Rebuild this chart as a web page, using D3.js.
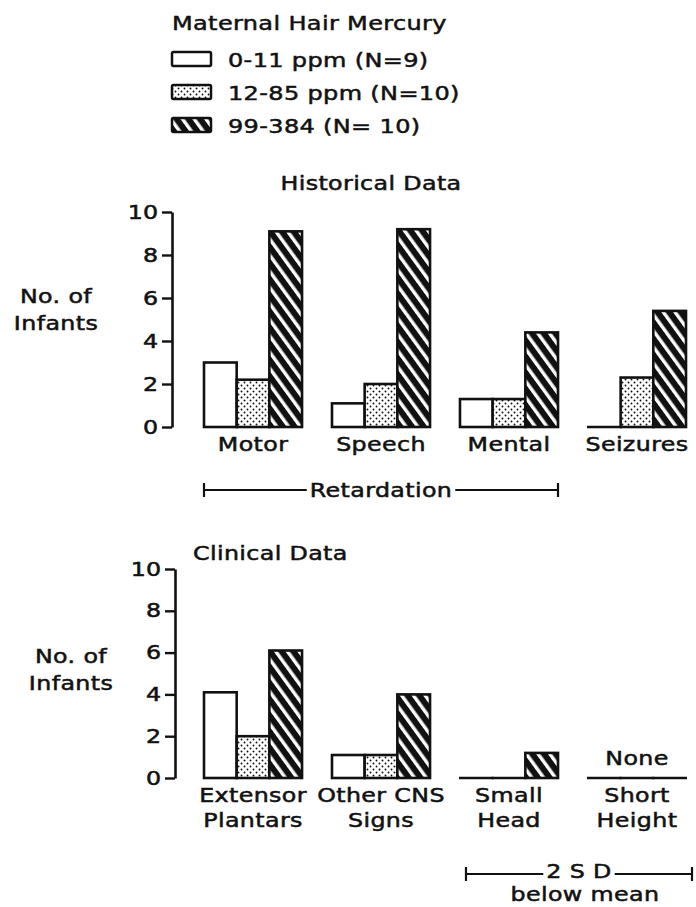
<!DOCTYPE html>
<html>
<head>
<meta charset="utf-8">
<script src="https://cdn.jsdelivr.net/npm/d3@7"></script>
<style>
  body { margin: 0; background: #fff; }
  /* printed type is heavier than the book weight, thicken with a thin stroke */
  text { font-family: "DejaVu Sans", sans-serif; fill: #111; stroke: #111; stroke-width: 0.5px; }
</style>
</head>
<body>
<svg id="chart" width="696" height="907"></svg>
<script>
// values
const seriesNames = ["0-11 ppm (N=9)", "12-85 ppm (N=10)", "99-384 (N= 10)"];
const histCategories = ["Motor", "Speech", "Mental", "Seizures"];
const histLow = [3, 1.1, 1.3, 0];
const histMid = [2.2, 2, 1.3, 2.3];
const histHigh = [9.1, 9.2, 4.4, 5.4];

const clinCategories = ["Extensor\nPlantars", "Other CNS\nSigns", "Small\nHead", "Short\nHeight"];
const clinLow = [4.1, 1.1, 0, 0];
const clinMid = [2, 1.1, 0, 0];
const clinHigh = [6.1, 4, 1.2, 0];

const yTicks = [0, 2, 4, 6, 8, 10];

const SX = 1.25; // the print type is wide, stretch it a bit
const svg = d3.select("#chart");

// patterns
const defs = svg.append("defs");
const dots = defs.append("pattern").attr("id", "dots")
    .attr("patternUnits", "userSpaceOnUse").attr("width", 6).attr("height", 6);
dots.append("rect").attr("width", 6).attr("height", 6).attr("fill", "#fff");
dots.append("circle").attr("cx", 1.5).attr("cy", 1.5).attr("r", 0.95).attr("fill", "#111");
dots.append("circle").attr("cx", 4.5).attr("cy", 4.5).attr("r", 0.95).attr("fill", "#111");

const hatch = defs.append("pattern").attr("id", "hatch")
    .attr("patternUnits", "userSpaceOnUse").attr("width", 9.5).attr("height", 9.5)
    .attr("patternTransform", "rotate(-36)");
hatch.append("rect").attr("width", 9.5).attr("height", 9.5).attr("fill", "#111");
hatch.append("rect").attr("width", 3.4).attr("height", 9.5).attr("fill", "#fff");

const fills = ["#fff", "url(#dots)", "url(#hatch)"];

function label(g, x, y, s, anchor = "middle", size = 19, sx = SX) {
    return g.append("text")
        .attr("transform", `translate(${x},${y}) scale(${sx},1)`)
        .attr("text-anchor", anchor)
        .style("font-size", size + "px")
        .style("letter-spacing", "0.3px")
        .text(s);
}

// legend
const leg = svg.append("g");
label(leg, 172, 30, "Maternal Hair Mercury", "start", 20, 1.2);
seriesNames.forEach((s, i) => {
    const base = 67 + i * 33;
    leg.append("rect").attr("x", 172).attr("y", base - 15).attr("width", 39).attr("height", 14)
        .attr("rx", 1.5).attr("fill", fills[i]).attr("stroke", "#111").attr("stroke-width", 2.5);
    label(leg, 228, base, s, "start", 20, 1.2);
});

// shared x scales
const x = d3.scaleBand().range([204, 686]).paddingInner(0.234).paddingOuter(0);
const xs = d3.scaleBand().domain([0, 1, 2]).padding(0);

function panel(cfg) {
    const g = svg.append("g");
    x.domain(cfg.cats);
    xs.range([0, x.bandwidth()]);
    const y = d3.scaleLinear().domain([0, 10]).range([cfg.y0, cfg.y10]);

    const ax = g.append("g").attr("transform", `translate(${cfg.axisX},0)`)
        .call(d3.axisLeft(y).tickValues(yTicks).tickSize(10).tickSizeOuter(0).tickPadding(4));
    ax.attr("font-family", null).attr("font-size", null);
    ax.select(".domain").attr("stroke", "#111").attr("stroke-width", 2.6);
    ax.selectAll(".tick line").attr("stroke", "#111").attr("stroke-width", 2.4);
    ax.selectAll(".tick text")
        .attr("x", -14 / SX)
        .attr("transform", `scale(${SX},1)`)
        .style("font-size", "19px")
        .attr("fill", "#111");

    const series = [cfg.low, cfg.mid, cfg.high];
    cfg.cats.forEach((c, i) => {
        series.forEach((vals, j) => {
            const v = vals[i];
            const bx = x(c) + xs(j);
            if (v > 0) {
                g.append("rect")
                    .attr("x", bx).attr("y", y(v))
                    .attr("width", xs.bandwidth()).attr("height", y(0) - y(v))
                    .attr("fill", fills[j]).attr("stroke", "#111").attr("stroke-width", 2.6);
            } else {
                g.append("line")
                    .attr("x1", bx - 1).attr("x2", bx + xs.bandwidth() + 1)
                    .attr("y1", y(0)).attr("y2", y(0))
                    .attr("stroke", "#111").attr("stroke-width", 2.4);
            }
        });
        c.split("\n").forEach((line, k) => {
            label(g, x(c) + x.bandwidth() / 2, cfg.y0 + 24 + k * 25, line);
        });
    });

    cfg.ylab.forEach((s, k) => label(g, cfg.ylabX, cfg.ylabY + k * 27, s));
    label(g, cfg.titleX, cfg.titleY, cfg.title, cfg.titleAnchor);
    return g;
}

function bracket(g, x1, x2, yLine, yText, s, extra) {
    const cx = (x1 + x2) / 2;
    const t = label(g, cx, yText, s);
    const w = t.node().getBBox().width * SX;
    const gap = 3;
    const ln = (a, b, ya, yb) => g.append("line").attr("x1", a).attr("x2", b).attr("y1", ya).attr("y2", yb)
        .attr("stroke", "#111").attr("stroke-width", 2.2);
    ln(x1, cx - w / 2 - gap, yLine, yLine);
    ln(cx + w / 2 + gap, x2, yLine, yLine);
    ln(x1, x1, yLine - 7, yLine + 7);
    ln(x2, x2, yLine - 7, yLine + 7);
    if (extra) label(g, cx + 6, yText + 23, extra);
}

const histPanel = panel({
    cats: histCategories, low: histLow, mid: histMid, high: histHigh,
    y0: 427, y10: 212, axisX: 172,
    ylab: ["No. of", "Infants"], ylabX: 56, ylabY: 303,
    title: "Historical Data", titleX: 371, titleY: 190, titleAnchor: "middle"
});
bracket(histPanel, x("Motor"), x("Mental") + x.bandwidth(), 490, 497, "Retardation");

const clinPanel = panel({
    cats: clinCategories, low: clinLow, mid: clinMid, high: clinHigh,
    y0: 778, y10: 569, axisX: 175,
    ylab: ["No. of", "Infants"], ylabX: 71, ylabY: 663,
    title: "Clinical Data", titleX: 193, titleY: 560, titleAnchor: "start"
});
label(clinPanel, x("Short\nHeight") + x.bandwidth() / 2, 765, "None");
bracket(clinPanel, x("Small\nHead") + 6, x("Short\nHeight") + x.bandwidth() + 6, 874, 878, "2 S D", "below mean");
</script>
</body>
</html>
